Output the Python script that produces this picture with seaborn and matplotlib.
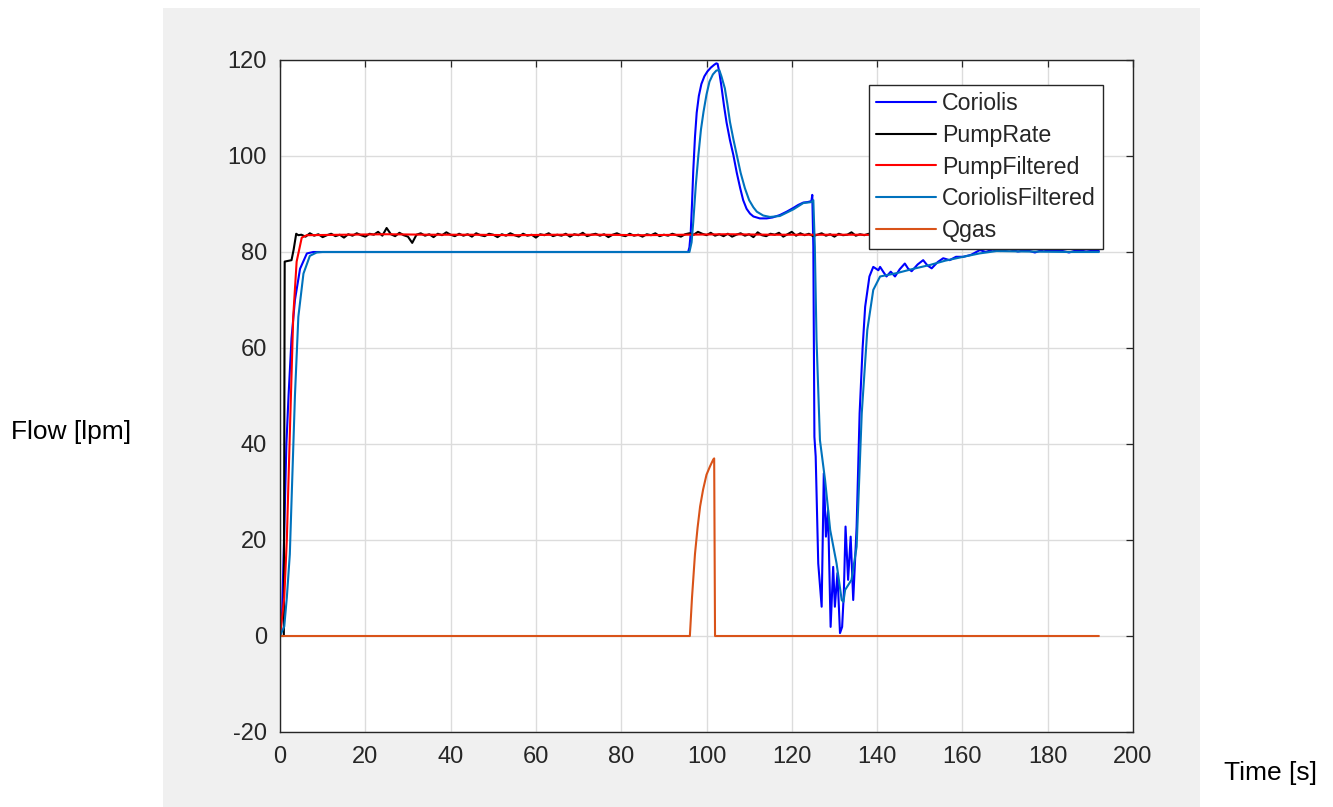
import numpy as np
import pandas as pd
import matplotlib
matplotlib.use("Agg")
import matplotlib.pyplot as plt
from matplotlib.patches import Rectangle
import seaborn as sns

# ---------------- data ----------------
cor_t = [0, 0.5, 1.0, 1.5, 2.0, 2.7, 3.5, 4.7, 6.3, 7.8, 10, 30, 60, 95.7,
         96.0, 96.3, 96.6, 96.9, 97.3, 97.7, 98.2, 98.8, 99.5, 100.2, 101.0,
         101.8, 102.3, 102.6, 103.0, 103.5, 104.1, 104.7, 105.5, 106.3, 107.1,
         107.9, 108.6, 109.4, 110.2, 111.0, 112.5, 114.1, 115.5, 117.2, 118.8,
         120.4, 121.5, 122.7, 123.7, 124.6, 124.8, 125.05,
         125.3, 125.6, 126.2, 127.0, 127.5, 128.0, 128.5, 129.1, 129.7, 130.1,
         130.7, 131.3, 131.8, 132.2, 132.6, 133.2, 133.8, 134.4, 135.2, 135.9,
         136.6, 137.2, 138.2, 139.1, 140.3, 140.7, 141.5, 142.2, 143.2, 144.2, 145.3,
         146.5, 147.3, 148.1, 149.5, 150.8, 151.8, 152.8, 154.2, 155.5, 157.0,
         158.5, 160.2, 162.0, 164.1, 165.5, 167.0, 169.0, 171.0, 173.0, 175.0,
         177.0, 179.0, 181.0, 183.0, 185.0, 187.0, 189.0, 191.0, 192.0]
cor_v = [0, 5, 22, 40, 50, 62, 70, 76.5, 79.7, 80, 80, 80, 80, 80,
         81, 84, 90, 97, 104, 109, 112.5, 115, 116.6, 117.6, 118.4,
         119.0, 119.3, 119.2, 117.5, 114.5, 110.5, 107.0, 103.3, 100.2, 96.5,
         93.3, 90.8, 89.0, 88.0, 87.4, 87.0, 87.0, 87.2, 87.7, 88.4,
         89.2, 89.8, 90.3, 90.4, 90.6, 91.9, 81.1,
         41.5, 37.4, 15.1, 6.1, 33.9, 20.7, 26.2, 1.9, 14.4, 6.1,
         13.1, 0.6, 1.9, 8.9, 22.8, 11.7, 20.7, 7.5, 22.8, 46.4,
         60.0, 68.6, 74.9, 76.9, 76.2, 76.9, 75.8, 74.9, 75.9, 74.9, 76.4,
         77.6, 76.5, 76.0, 77.4, 78.3, 77.2, 76.6, 77.9, 78.7, 78.3,
         79.0, 79.0, 79.4, 80.4, 80.0, 80.5, 80.2, 80.6, 80.1, 80.4,
         79.9, 80.5, 80.2, 80.3, 79.9, 80.4, 80.1, 80.3, 80.2]

pump_t0 = [0, 0.9, 1.1, 2.7, 3.2, 3.8, 4.3]
pump_v0 = [0, 0, 78.0, 78.3, 80.5, 83.8, 83.5]
pump_v = [83.6, 83.2, 83.9, 83.4, 83.7, 83.1, 83.5, 83.8, 83.3, 83.6,
          83.0, 83.7, 83.4, 83.9, 83.5, 83.2, 83.8, 83.6, 84.2, 83.4,
          85.0, 83.7, 83.3, 84.0, 83.5, 83.2, 81.9, 83.6, 83.9, 83.4,
          83.7, 83.1, 83.8, 83.5, 84.1, 83.6, 83.3, 83.8, 83.4, 83.7,
          83.2, 83.9, 83.5, 83.3, 83.8, 83.6, 83.1, 83.7, 83.4, 83.9,
          83.5, 83.2, 83.8, 83.4, 83.6, 83.0, 83.7, 83.5, 83.9, 83.3,
          83.6, 83.4, 83.8, 83.2, 83.7, 83.5, 84.0, 83.3, 83.6, 83.8,
          83.4, 83.7, 83.1, 83.6, 83.9, 83.5, 83.3, 83.8, 83.4, 83.6,
          83.2, 83.7, 83.5, 83.9, 83.3, 83.6, 83.4, 83.8, 83.5, 83.2,
          83.7, 83.9, 83.6, 84.2, 83.8, 83.5, 84.0, 83.4, 83.7, 83.3,
          83.8, 83.2, 83.6, 83.9, 83.4, 83.7, 83.1, 84.1, 83.5, 83.3,
          83.8, 83.6, 84.0, 83.2, 83.7, 84.2, 83.4, 83.9, 83.5, 83.8,
          83.3, 83.6, 83.9, 83.4, 83.7, 83.2, 83.8, 83.5, 83.6, 84.1,
          83.4, 83.7, 83.5, 83.8, 83.3, 83.6, 83.9, 83.4, 83.7, 83.5,
          83.2, 83.8, 83.6, 83.4, 83.7, 83.5, 83.9, 83.3, 83.6, 83.8,
          83.4, 83.7, 83.5, 83.2, 83.8, 83.6, 83.4, 83.9, 83.5, 83.7,
          83.3, 83.6, 83.8, 83.4, 83.7, 83.5, 83.2, 83.8, 83.6, 83.4,
          83.7, 83.5, 83.9, 83.3, 83.6, 83.8, 83.4, 83.7, 83.5, 83.6,
          83.2, 83.8, 83.5, 83.7, 83.4, 83.6, 83.9, 83.5]
pump_t = pump_t0 + list(range(5, 5 + len(pump_v)))
pump_v = pump_v0 + pump_v

pf_t = [0, 1.0, 1.6, 2.3, 3.1, 3.9, 5.1, 6.3, 15, 25, 35, 45, 55, 65, 75,
        85, 95, 105, 115, 125, 135, 145, 155, 165, 175, 185, 192]
pf_v = [0, 8, 20, 42, 66.5, 78, 83.0, 83.5, 83.6, 83.7, 83.6, 83.6, 83.5, 83.6, 83.6,
        83.5, 83.6, 83.7, 83.6, 83.6, 83.6, 83.5, 83.6, 83.6, 83.5, 83.6, 83.6]

cf_t = [0, 1.0, 1.6, 2.3, 3.5, 4.3, 5.5, 7.0, 8.6, 10, 30, 60, 96.0,
        96.5, 96.9, 97.5, 98.1, 98.7, 99.3, 100.0, 100.7, 101.5, 102.3, 103.0,
        103.5, 104.3, 104.9, 105.5, 106.3, 107.1, 108.0, 109.0, 110.0, 111.0,
        111.8, 113.3, 114.9, 117.2, 120.4, 122.7, 124.6, 125.05, 125.4, 125.8, 126.6,
        127.8, 129.0, 130.5, 131.7, 132.1, 132.5, 134.0, 135.2, 136.4, 137.7,
        139.1, 140.7, 144.6, 148.5, 152.4, 156.0, 160.2, 164.0, 168.0, 175.0,
        185.0, 192.0]
cf_v = [0, 2, 8, 17, 50, 66.5, 75.5, 79.2, 79.9, 80, 80, 80, 80,
        82.0, 86.3, 94.0, 100.2, 105.5, 109.2, 112.8, 115.5, 117.0, 117.8, 117.9,
        116.6, 114.1, 110.8, 107.1, 103.5, 100.2, 96.5, 93.3, 90.8, 89.3,
        88.4, 87.6, 87.3, 87.5, 88.9, 90.2, 90.4, 90.8, 81.1, 61.7, 40.8,
        32.5, 22.1, 15.1, 7.5, 7.1, 9.6, 11.7, 18.6, 46.4, 63.75,
        72.1, 74.9, 75.6, 76.5, 77.3, 78.2, 79.0, 79.7, 80.2, 80.1,
        80.0, 80.0]

qg_t = [0, 96.1, 96.6, 97.3, 97.9, 98.5, 99.2, 100.0, 100.8, 101.6, 101.8, 102.0, 192.0]
qg_v = [0, 0, 8.0, 17.1, 22.5, 27.0, 30.5, 33.6, 35.3, 36.8, 37.0, 0, 0]

series = [
    ("Coriolis", cor_t, cor_v, "#0000FF"),
    ("PumpRate", pump_t, pump_v, "#000000"),
    ("PumpFiltered", pf_t, pf_v, "#FF0000"),
    ("CoriolisFiltered", cf_t, cf_v, "#0072BD"),
    ("Qgas", qg_t, qg_v, "#D95319"),
]

x_ticks = [0, 20, 40, 60, 80, 100, 120, 140, 160, 180, 200]
y_ticks = [-20, 0, 20, 40, 60, 80, 100, 120]

# ---------------- style ----------------
sns.set_style("white")
plt.rcParams["font.family"] = ["Liberation Sans", "DejaVu Sans"]
plt.rcParams["axes.unicode_minus"] = False

W, H = 1333, 807
fig = plt.figure(figsize=(W / 100, H / 100), dpi=100, facecolor="white")
fig.patches.append(Rectangle((163 / W, 0), (1200 - 163) / W, 1 - 8 / H,
                             transform=fig.transFigure, facecolor="#F0F0F0",
                             edgecolor="none", zorder=-10))

ax = fig.add_axes([280 / W, 1 - 732 / H, (1133 - 280) / W, (732 - 60) / H])
ax.set_facecolor("white")

for name, t, v, c in series:
    df = pd.DataFrame({"t": t, "v": v})
    sns.lineplot(data=df, x="t", y="v", ax=ax, color=c, label=name,
                 linewidth=1.5, estimator=None, sort=False)

ax.set_xlim(0, 200)
ax.set_ylim(-20, 120)
ax.set_xticks(x_ticks)
ax.set_yticks(y_ticks)
ax.set_xlabel("")
ax.set_ylabel("")
ax.grid(True, color="#DCDCDC", linewidth=1.0)
ax.set_axisbelow(True)
for s in ax.spines.values():
    s.set_color("#262626")
    s.set_linewidth(1.0)
    s.set_visible(True)
ax.tick_params(axis="both", direction="in", length=5, width=0.9, color="#262626",
               labelcolor="#262626", labelsize=17, top=True, right=True)
ax.tick_params(axis="x", pad=10)
ax.tick_params(axis="y", pad=9.5)

leg = ax.legend(loc="upper right", bbox_to_anchor=((1103 - 280) / 853, (732 - 85) / 672),
                borderaxespad=0, fontsize=16.7, frameon=True, fancybox=False,
                edgecolor="#262626", handlelength=2.6, handletextpad=0.27,
                labelspacing=0.38, borderpad=0.3)
leg.get_frame().set_linewidth(1.0)
leg.get_frame().set_alpha(1.0)

fig.text(71 / W, 1 - 432 / H, "Flow [lpm]", ha="center", va="center", fontsize=19, color="black")
fig.text(1271 / W, 1 - 773 / H, "Time [s]", ha="center", va="center", fontsize=19, color="black")

fig.savefig("out.png", dpi=100, facecolor="white")
